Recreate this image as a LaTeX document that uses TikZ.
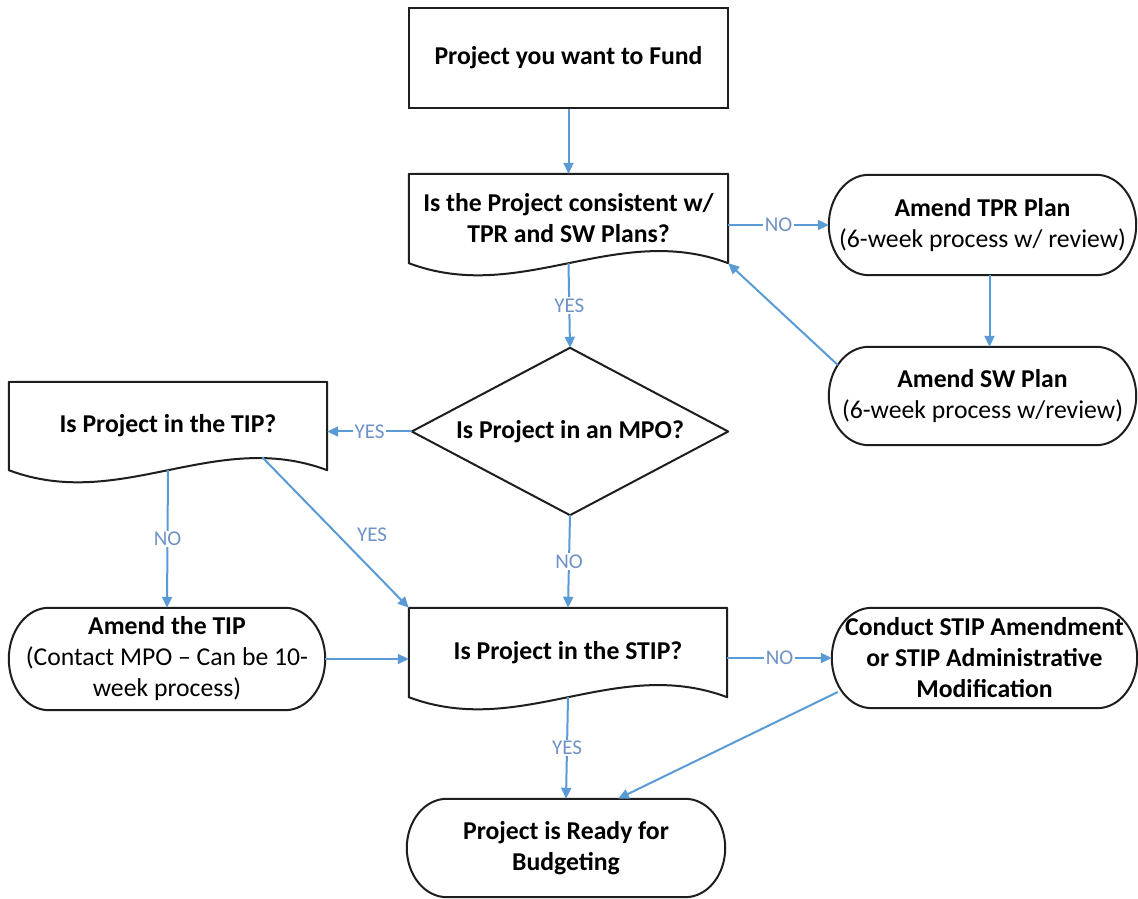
\documentclass[tikz,border=0pt]{standalone}
\usepackage{fontspec}
\setmainfont{Carlito}
\usetikzlibrary{arrows.meta,calc}
\definecolor{linecol}{RGB}{91,155,213}
\definecolor{labcol}{RGB}{110,146,198}
\definecolor{outcol}{RGB}{30,30,30}
\tikzset{
  box/.style={rectangle, draw=none, inner sep=0pt, align=center,
    font=\bfseries\fontsize{25.7}{31}\selectfont, text=black},
  outl/.style={draw=outcol, line width=2pt, line join=round},
  conn/.style={draw=linecol, line width=2pt, -{Triangle[length=11pt,width=10pt]}},
  lbl/.style={font=\fontsize{21}{21}\selectfont, text=labcol, fill=white, inner sep=1.5pt},
}
\newcommand{\drawterm}[2][40]{%
  \draw[outl] let \p1=(#2.north west), \p2=(#2.south east), \p3=($(\p1)-(\p2)$) in
    (\x1+#1pt,\y1) -- (\x2-#1pt,\y1)
    arc[start angle=90,end angle=-90,x radius=#1pt,y radius=0.5*\y3]
    -- (\x1+#1pt,\y2)
    arc[start angle=270,end angle=90,x radius=#1pt,y radius=0.5*\y3] -- cycle;}
\newcommand{\drawdoc}[1]{%
  \draw[outl] (#1.north west) -- (#1.north east) -- (#1.south east)
    .. controls +(-112,42) and +(112,-42) .. (#1.south west) -- cycle;}
\begin{document}
\begin{tikzpicture}[x=1pt,y=1pt]
\fill[white] (0,0) rectangle (1138,899);
\useasboundingbox (0,0) rectangle (1138,899);

% nodes
\node[box, draw=outcol, line width=2pt, minimum width=319pt, minimum height=100pt] (start) at (568.5,841) {Project you want to Fund};
\node[box, minimum width=319pt, minimum height=89pt] (d1) at (568.5,680.5) {Is the Project consistent w/\\TPR and SW Plans?};
\node[box, minimum width=307pt, minimum height=100pt] (tpr) at (982.5,674) {Amend TPR Plan\\{\mdseries (6-week process w/ review)}};
\node[box, minimum width=307pt, minimum height=98pt] (sw) at (982.5,503) {Amend SW Plan\\{\mdseries (6-week process w/review)}};
\node[box, minimum width=316pt, minimum height=167pt] (mpo) at (570,467.5) {Is Project in an MPO?};
\node[box, minimum width=318pt, minimum height=88pt] (tip) at (168,473) {Is Project in the TIP?};
\node[box, minimum width=316pt, minimum height=102pt] (amend) at (167,240) {Amend the TIP\\{\mdseries (Contact MPO – Can be 10-}\\{\mdseries week process)}};
\node[box, minimum width=318pt, minimum height=89pt] (stip) at (568,246.5) {Is Project in the STIP?};
\node[box, minimum width=305pt, minimum height=100pt] (conduct) at (984.5,241) {Conduct STIP Amendment\\or STIP Administrative\\Modification};
\node[box, minimum width=318pt, minimum height=98pt] (ready) at (566,51) {Project is Ready for\\Budgeting};

% outlines
\drawdoc{d1}
\drawdoc{tip}
\drawdoc{stip}
\drawterm{tpr}
\drawterm{sw}
\drawterm{amend}
\drawterm{conduct}
\drawterm{ready}
\draw[outl] (mpo.north) -- (mpo.east) -- (mpo.south) -- (mpo.west) -- cycle;

% connectors
\draw[conn] (start.south) -- (d1.north);
\draw[conn] (d1.east |- tpr.west) -- node[lbl]{NO} (tpr.west);
\draw[conn] ([xshift=7pt]tpr.south) -- ([xshift=7pt]sw.north);
\coordinate (swst) at ($(sw.west)+(9,31)$);
\draw[conn] (swst) -- (d1.south east);
\draw[conn] (d1.south) -- node[lbl]{YES} (mpo.north);
\draw[conn] (mpo.west) -- node[lbl]{YES} (mpo.west -| tip.east);
\draw[conn] (tip.south) -- node[lbl]{NO} (amend.north);
\coordinate (tipw) at ($(tip.south east)+(-65,13)$);
\draw[conn] (tipw) -- (stip.north west);
\node[lbl, fill=none] (yes3) at (372,364) {YES};
\draw[conn] (mpo.south) -- node[lbl]{NO} (stip.north);
\draw[conn] (amend.east) -- (amend.east -| stip.west);
\draw[conn] (stip.east |- conduct.west) -- node[lbl]{NO} (conduct.west);
\draw[conn] (stip.south) -- node[lbl]{YES} (ready.north);
\coordinate (cdst) at ($(conduct.west)+(6,-34)$);
\coordinate (rdend) at ($(ready.north)+(52,0)$);
\draw[conn] (cdst) -- (rdend);
\end{tikzpicture}
\end{document}
